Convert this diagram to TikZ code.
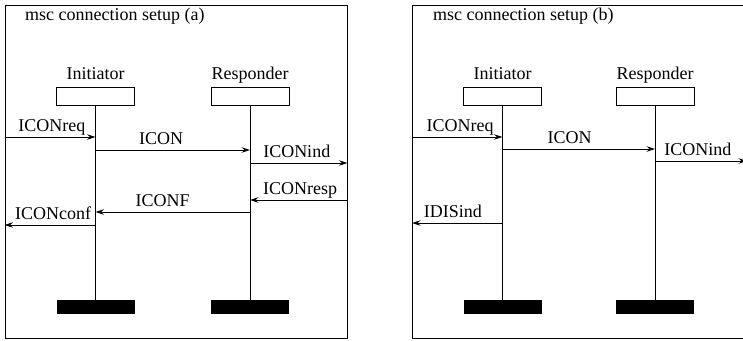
\documentclass[tikz,border=0pt]{standalone}
\usepackage{fontspec}
\setmainfont{Liberation Serif}
\usetikzlibrary{arrows.meta, positioning}

\begin{document}
\begin{tikzpicture}[
  x=1pt, y=-1pt,
  font=\fontsize{18}{21}\selectfont,
  frame/.style={rectangle, draw, line width=0.8pt, minimum width=342pt,
    minimum height=333pt, inner sep=0pt},
  head/.style={rectangle, draw, line width=0.8pt, minimum width=78pt,
    minimum height=18pt, inner sep=0pt},
  foot/.style={rectangle, fill=black, minimum width=78pt, minimum height=14pt, inner sep=0pt},
  instname/.style={anchor=base, inner sep=0pt},
  life/.style={line width=0.8pt},
  msg/.style={-{Stealth[length=8.5pt, width=5.5pt, inset=3pt]}, line width=0.8pt},
  sig/.style={anchor=base, inner sep=0pt, yshift=5.5pt}
]
  \useasboundingbox (0,0) rectangle (743,340);

  % (a)
  \node[frame] (fa) at (176,171.5) {};
  \node[anchor=base west, inner sep=0pt] (ta) at (25,20) {msc connection setup (a)};
  \node[head] (inia) at (95.5,96) {};
  \node[head] (resa) at (250,96) {};
  \node[instname] (inilbla) at ([yshift=7pt]inia.north) {Initiator};
  \node[instname] (reslbla) at ([yshift=7pt]resa.north) {Responder};
  \node[foot] (inifa) at (95.5,307) {};
  \node[foot] (resfa) at (250,307) {};
  \draw[life] (inia) -- (inifa);
  \draw[life] (resa) -- (resfa);

  \coordinate (ya1) at (0,137);
  \coordinate (ya2) at (0,150);
  \coordinate (ya3) at (0,163);
  \coordinate (ya4) at (0,200);
  \coordinate (ya5) at (0,212);
  \coordinate (ya6) at (0,225);
  \draw[msg] (fa.west |- ya1) -- node[sig, pos=.52] {ICONreq} (inia |- ya1);
  \draw[msg] (inia |- ya2) -- node[sig, pos=.425] {ICON} (resa |- ya2);
  \draw[msg] (resa |- ya3) -- node[sig, pos=.48] {ICONind} (fa.east |- ya3);
  \draw[msg] (fa.east |- ya4) -- node[sig, pos=.485] {ICONresp} (resa |- ya4);
  \draw[msg] (resa |- ya5) -- node[sig, pos=.565] {ICONF} (inia |- ya5);
  \draw[msg] (inia |- ya6) -- node[sig, pos=.467] {ICONconf} (fa.west |- ya6);

  % (b)
  \node[frame] (fb) at (583.5,171.5) {};
  \node[anchor=base west, inner sep=0pt] (tb) at (433,20) {msc connection setup (b)};
  \node[head] (inib) at (502.5,96) {};
  \node[head] (resb) at (655,96) {};
  \node[instname] (inilblb) at ([yshift=7pt]inib.north) {Initiator};
  \node[instname] (reslblb) at ([yshift=7pt]resb.north) {Responder};
  \node[foot] (inifb) at (502.5,307) {};
  \node[foot] (resfb) at (655,307) {};
  \draw[life] (inib) -- (inifb);
  \draw[life] (resb) -- (resfb);

  \coordinate (yb1) at (0,137);
  \coordinate (yb2) at (0,149);
  \coordinate (yb3) at (0,161);
  \coordinate (yb4) at (0,223);
  \coordinate (outb) at (747,161);
  \draw[msg] (fb.west |- yb1) -- node[sig, pos=.53] {ICONreq} (inib |- yb1);
  \draw[msg] (inib |- yb2) -- node[sig, pos=.44] {ICON} (resb |- yb2);
  \draw[msg] (resb |- yb3) -- node[sig, pos=.467] {ICONind} (outb);
  \draw[msg] (inib |- yb4) -- node[sig, pos=.55] {IDISind} (fb.west |- yb4);
\end{tikzpicture}
\end{document}
